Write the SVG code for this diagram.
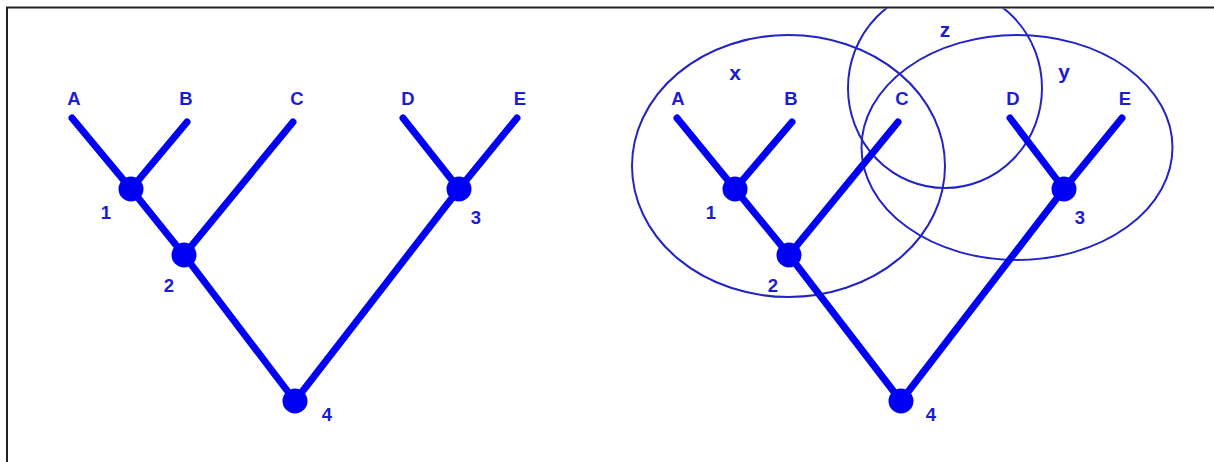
<svg xmlns="http://www.w3.org/2000/svg" width="1214" height="462" viewBox="0 0 1214 462">
<style>
.br{stroke:#0000f5;stroke-width:7;stroke-linecap:round;fill:none}
.nd{fill:#0000f5}
.lb{font-family:"Liberation Sans",Arial,sans-serif;font-weight:bold;font-size:18.5px;fill:#1c1cd2;text-anchor:middle}
.sm{font-size:21px}
.set{fill:none;stroke:#2424c4;stroke-width:2}
</style>
<defs>
<clipPath id="inside"><rect x="8" y="8.5" width="1206" height="454"/></clipPath>
</defs>
<rect width="1214" height="462" fill="#fff"/>
<g id="sets" clip-path="url(#inside)">
<ellipse id="set-x" class="set" cx="788.5" cy="166" rx="156.5" ry="131"/>
<ellipse id="set-y" class="set" cx="1017" cy="147.5" rx="155.5" ry="112.5"/>
<ellipse id="set-z" class="set" cx="945" cy="88" rx="97" ry="100"/>
<text class="lb sm" x="735" y="80">x</text>
<text class="lb sm" x="1064" y="79">y</text>
<text class="lb sm" x="945" y="37">z</text>
</g>
<g id="connectors">
<path class="br" d="M72,118 L131,189 M187,122 L131,189 M131,189 L184,255 M293,122 L184,255 M184,255 L295,401 M295,401 L459,189 M403,118 L459,189 M517,118 L459,189"/>
<path class="br" d="M677,118 L735,189 M792,122 L735,189 M735,189 L789,255 M898,122 L789,255 M789,255 L901,401 M901,401 L1064,189 M1010,118 L1064,189 M1122,118 L1064,189"/>
</g>
<g id="left-tree">
<g id="L-A"><text class="lb" x="74" y="105">A</text></g>
<g id="L-B"><text class="lb" x="186" y="105">B</text></g>
<g id="L-C"><text class="lb" x="297" y="105">C</text></g>
<g id="L-D"><text class="lb" x="408" y="105">D</text></g>
<g id="L-E"><text class="lb" x="520" y="105">E</text></g>
<g id="L-n1"><circle class="nd" cx="131" cy="189" r="12.5"/><text class="lb" x="106" y="219">1</text></g>
<g id="L-n2"><circle class="nd" cx="184" cy="255" r="12.5"/><text class="lb" x="169" y="292">2</text></g>
<g id="L-n3"><circle class="nd" cx="459" cy="189" r="12.5"/><text class="lb" x="476" y="224">3</text></g>
<g id="L-n4"><circle class="nd" cx="295" cy="401" r="12.5"/><text class="lb" x="327" y="421">4</text></g>
</g>
<g id="right-tree">
<g id="R-A"><text class="lb" x="678" y="105">A</text></g>
<g id="R-B"><text class="lb" x="791" y="105">B</text></g>
<g id="R-C"><text class="lb" x="902" y="105">C</text></g>
<g id="R-D"><text class="lb" x="1013" y="105">D</text></g>
<g id="R-E"><text class="lb" x="1125" y="105">E</text></g>
<g id="R-n1"><circle class="nd" cx="735" cy="189" r="12.5"/><text class="lb" x="711" y="219">1</text></g>
<g id="R-n2"><circle class="nd" cx="789" cy="255" r="12.5"/><text class="lb" x="773" y="292">2</text></g>
<g id="R-n3"><circle class="nd" cx="1064" cy="189" r="12.5"/><text class="lb" x="1080" y="224">3</text></g>
<g id="R-n4"><circle class="nd" cx="901" cy="401" r="12.5"/><text class="lb" x="931" y="421">4</text></g>
</g>
<path id="frame" d="M7,462 V7.5 H1214" fill="none" stroke="#222" stroke-width="2"/>
</svg>
